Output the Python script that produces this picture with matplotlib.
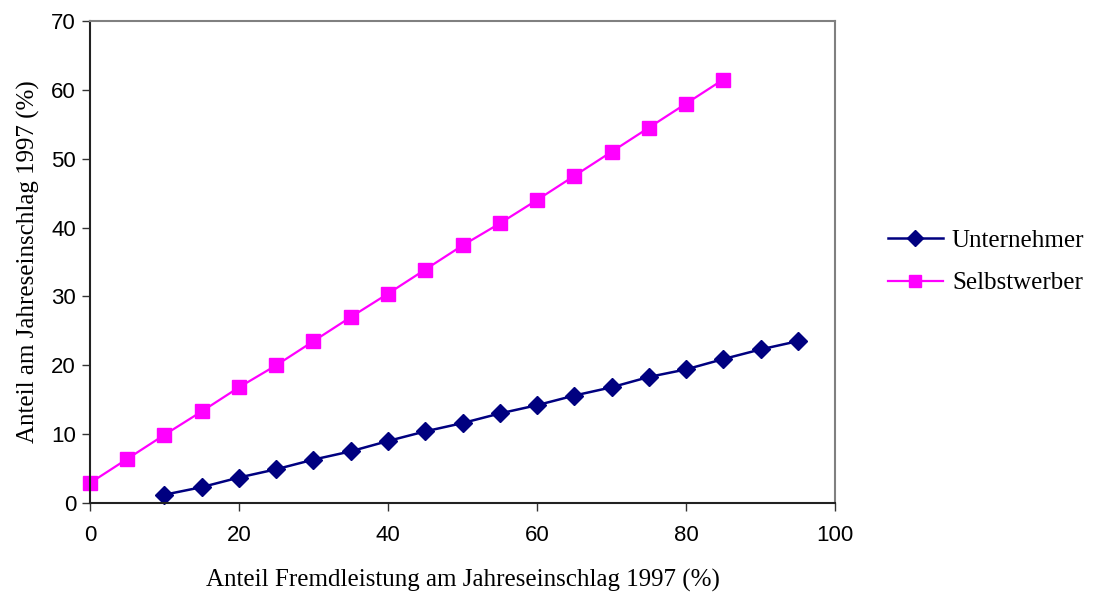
import matplotlib.pyplot as plt

# Anteil Fremdleistung (%)
x_unt = [10, 15, 20, 25, 30, 35, 40, 45, 50, 55, 60, 65, 70, 75, 80, 85, 90, 95]
y_unt = [1.2, 2.3, 3.7, 4.9, 6.3, 7.5, 9.0, 10.4, 11.6, 13.0, 14.2, 15.6, 16.8, 18.3, 19.4, 20.9, 22.3, 23.5]

x_sel = [0, 5, 10, 15, 20, 25, 30, 35, 40, 45, 50, 55, 60, 65, 70, 75, 80, 85]
y_sel = [2.9, 6.4, 9.9, 13.3, 16.8, 20.0, 23.5, 27.0, 30.4, 33.9, 37.4, 40.6, 44.0, 47.5, 51.0, 54.5, 58.0, 61.5]

xticks = [0, 20, 40, 60, 80, 100]
yticks = [0, 10, 20, 30, 40, 50, 60, 70]

serif = ['Liberation Serif', 'DejaVu Serif']
sans = ['Liberation Sans', 'DejaVu Sans']

fig = plt.figure(figsize=(10.96, 5.93), dpi=100)
ax = fig.add_axes([0.0821, 0.1518, 0.6798, 0.8128])

ax.plot(x_unt, y_unt, color='#000080', lw=1.8, marker='D', ms=9,
        label='Unternehmer', clip_on=False)
ax.plot(x_sel, y_sel, color='#ff00ff', lw=1.6, marker='s', ms=10,
        label='Selbstwerber', clip_on=False)

ax.set_xlim(0, 100)
ax.set_ylim(0, 70)
ax.set_xticks(xticks)
ax.set_yticks(yticks)
ax.tick_params(direction='out', length=6, width=1, color='#333333',
               labelsize=16)
ax.tick_params(axis='x', pad=10)
ax.tick_params(axis='y', pad=4)
for lab in ax.get_xticklabels() + ax.get_yticklabels():
    lab.set_family(sans)

for s in ['left', 'bottom']:
    ax.spines[s].set_color('#222222')
    ax.spines[s].set_linewidth(1.5)
for s in ['top', 'right']:
    ax.spines[s].set_color('#808080')
    ax.spines[s].set_linewidth(1.5)

ax.set_xlabel('Anteil Fremdleistung am Jahreseinschlag 1997 (%)',
              family=serif, fontsize=18, labelpad=16)
ax.set_ylabel('Anteil am Jahreseinschlag 1997 (%)',
              family=serif, fontsize=18, labelpad=8)

leg = ax.legend(loc='center left', bbox_to_anchor=(1.071, 0.5), frameon=False,
                prop={'family': serif, 'size': 18}, handlelength=2.2,
                handletextpad=0.36, labelspacing=0.8, borderpad=0,
                borderaxespad=0, markerscale=0.85)

fig.savefig('out.png', dpi=100)
